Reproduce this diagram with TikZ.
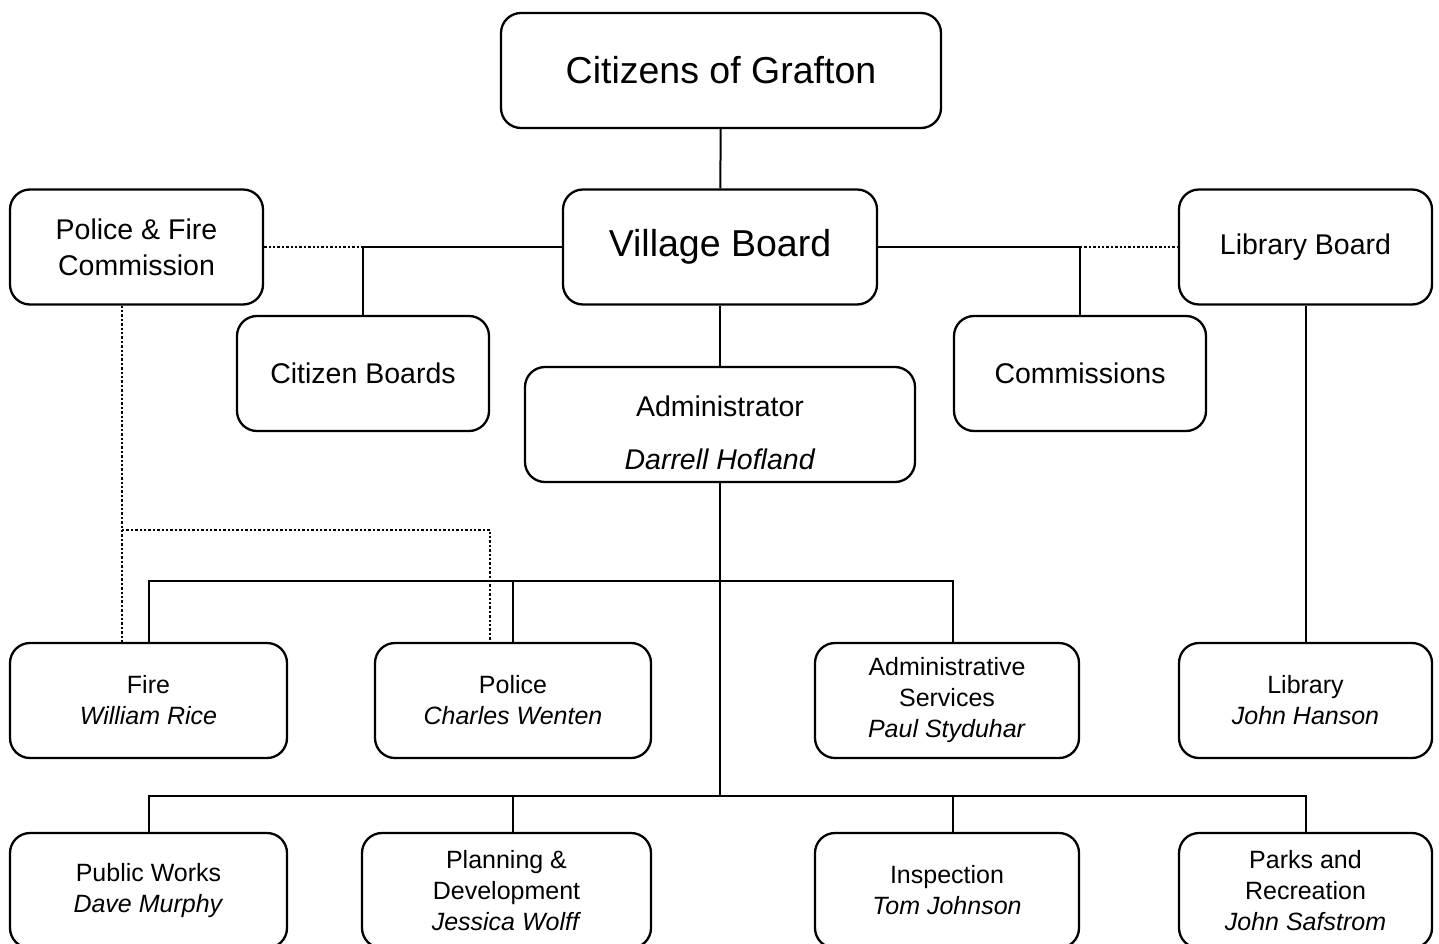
\documentclass[tikz,border=0pt]{standalone}
\usepackage{fontspec}
\setmainfont{Liberation Sans}
\begin{document}
\begin{tikzpicture}[x=1pt, y=-1pt]
    % Define styles for nodes and lines
    \tikzstyle{top} = [rectangle, rounded corners=20pt, minimum height=115pt, inner sep=0pt, align=center, draw=black, line width=2.3pt, font=\fontsize{37.5}{45}\selectfont]
    \tikzstyle{board} = [rectangle, rounded corners=20pt, minimum width=253pt, minimum height=115pt, inner sep=0pt, align=center, draw=black, line width=2.3pt, font=\fontsize{28.5}{36}\selectfont]
    \tikzstyle{dept} = [rectangle, rounded corners=20pt, minimum height=115pt, inner sep=0pt, align=center, draw=black, line width=2.3pt, font=\fontsize{25}{31}\selectfont]
    % Line styles for solid and dotted links
    \tikzset{link/.style={line width=2pt, draw=black},
        dotlink/.style={line width=2.4pt, draw=black, dash pattern=on 2.4pt off 2pt}}
    \path[use as bounding box, clip] (0,0) rectangle (1439,944);
    % Nodes
    \node (citizens) [top, minimum width=440pt] at (721,70.5) {Citizens of Grafton};
    \node (village) [top, minimum width=314pt] at (720,247) {Village Board};
    \node (pfc) [board] at (136.5,247) {Police \& Fire\\Commission};
    \node (libboard) [board] at (1305.5,247) {Library Board};
    \node (citboards) [board, minimum width=252pt] at (363,373.5) {Citizen Boards};
    \node (commissions) [board, minimum width=252pt] at (1080,373.5) {Commissions};
    \node (admin) [board, minimum width=390pt] at (720,424.5) {\rule{0pt}{37pt}Administrator\\[17pt]\textit{Darrell Hofland}};
    \node (fire) [dept, minimum width=277pt] at (148.5,700.5) {Fire\\\textit{William Rice}};
    \node (police) [dept, minimum width=276pt] at (513,700.5) {Police\\\textit{Charles Wenten}};
    \node (adminsvc) [dept, minimum width=264pt] at (947,700.5) {Administrative\\Services\\\textit{Paul Styduhar}};
    \node (library) [dept, minimum width=253pt] at (1305.5,700.5) {Library\\\textit{John Hanson}};
    \node (pubworks) [dept, minimum width=277pt] at (148.5,890.5) {Public Works\\\textit{Dave Murphy}};
    \node (planning) [dept, minimum width=289pt] at (506.5,890.5) {Planning \&\\Development\\\textit{Jessica Wolff}};
    \node (inspection) [dept, minimum width=264pt] at (947,890.5) {Inspection\\\textit{Tom Johnson}};
    \node (parks) [dept, minimum width=253pt] at (1305.5,890.5) {Parks and\\Recreation\\\textit{John Safstrom}};
    % Junctions
    \coordinate (lj) at (citboards.north |- village.west);
    \coordinate (rj) at (commissions.north |- village.west);
    \coordinate (bus1) at (720,581);
    \coordinate (bus2) at (720,796);
    \coordinate (dj) at (122,530);
    % Lines (connections)
    \draw [link] (citizens) -- (village);
    \draw [link] (village.west) -| (citboards.north);
    \draw [link] (village.east) -| (commissions.north);
    \draw [link] (village) -- (admin);
    \draw [link] (admin.south) -- (bus2);
    \draw [link] (fire.north) |- (bus1) -| ([xshift=6pt]adminsvc.north);
    \draw [link] (police.north) -- (police.north |- bus1);
    \draw [link] (pubworks.north) |- (bus2) -| (parks.north);
    \draw [link] ([xshift=6.5pt]planning.north) -- ([xshift=6.5pt]planning.north |- bus2);
    \draw [link] ([xshift=6pt]inspection.north) -- ([xshift=6pt]inspection.north |- bus2);
    \draw [link] (libboard) -- (library);
    \draw [dotlink] (pfc.east) -- (lj);
    \draw [dotlink] (rj) -- (libboard.west);
    \draw [dotlink] ([xshift=-14.5pt]pfc.south) -- ([xshift=-26.5pt]fire.north);
    \draw [dotlink] (dj) -| ([xshift=-23pt]police.north);
\end{tikzpicture}
\end{document}
